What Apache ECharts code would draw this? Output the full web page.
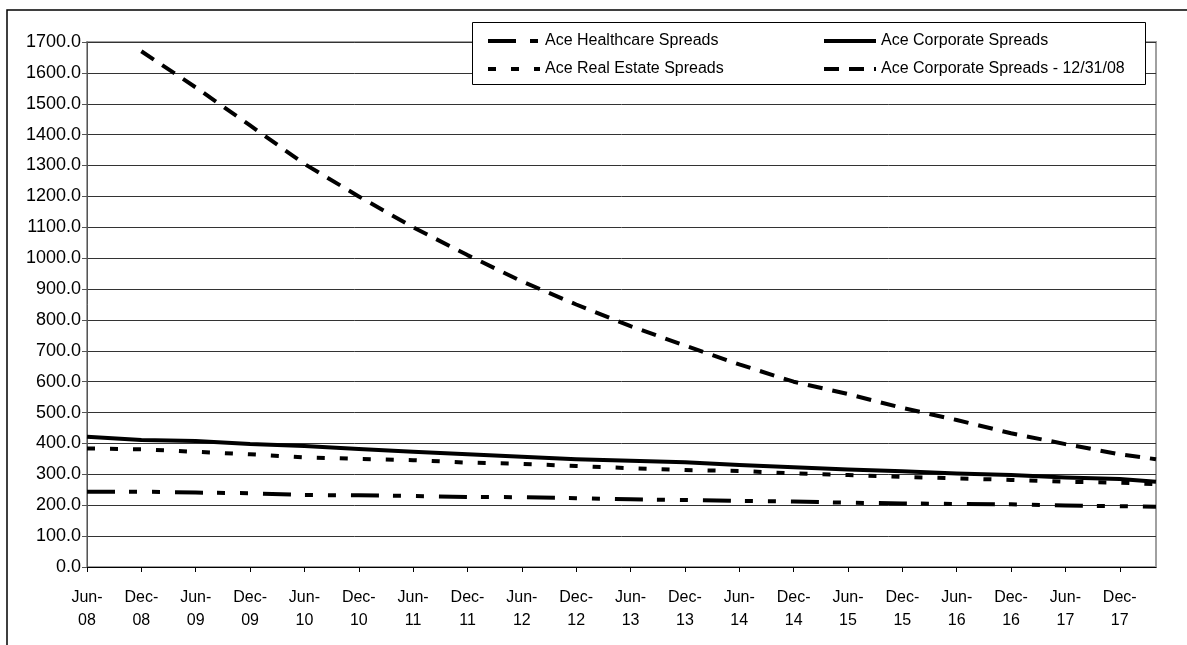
<!DOCTYPE html>
<html>
<head>
<meta charset="utf-8">
<script src="https://cdn.jsdelivr.net/npm/echarts@6/dist/echarts.min.js"></script>
<style>
  html, body { margin: 0; padding: 0; background: #fff; }
  #chart { width: 1187px; height: 645px; }
</style>
</head>
<body>
<div id="chart"></div>
<script>
// Half-year tick labels, Jun-08 .. Dec-17
const tickLabels = ['Jun-08','Dec-08','Jun-09','Dec-09','Jun-10','Dec-10','Jun-11','Dec-11','Jun-12','Dec-12',
                    'Jun-13','Dec-13','Jun-14','Dec-14','Jun-15','Dec-15','Jun-16','Dec-16','Jun-17','Dec-17'];
// Months elapsed since Jun-08 for each observation (last one is Apr-18)
const months = [0,6,12,18,24,30,36,42,48,54,60,66,72,78,84,90,96,102,108,114,118];
const axisMaxMonth = 118;

const healthcare = [244,244,241,239,233,232,230,227,226,223,219,217,214,212,208,206,204,203,199,197,195];
const realEstate = [384,381,373,365,355,350,346,338,334,327,320,314,311,303,298,292,287,282,276,273,268];
const corporate  = [422,411,408,398,392,382,373,365,357,349,344,339,330,323,316,310,303,298,290,285,276];
const corporate123108 = [null,1670,1553,1430,1305,1200,1100,1010,925,850,780,717,656,600,560,515,476,433,398,365,349];

const seriesNames = ['Ace Healthcare Spreads','Ace Real Estate Spreads','Ace Corporate Spreads','Ace Corporate Spreads - 12/31/08'];

const FONT = 'Liberation Sans, Arial, sans-serif';
const pair = (vals) => months.map((m, i) => [m, vals[i]]);

const chart = echarts.init(document.getElementById('chart'), null, { renderer: 'canvas' });

function lineSeries(name, vals, dash) {
  return {
    name: name,
    type: 'line',
    data: pair(vals),
    showSymbol: false,
    symbol: 'none',
    connectNulls: false,
    z: 3,
    itemStyle: { color: '#000' },
    lineStyle: { color: '#000', width: 4, type: dash, cap: 'butt', join: 'round' },
    emphasis: { disabled: true }
  };
}

const legendCommon = {
  orient: 'vertical', top: 33, padding: 0,
  itemWidth: 52, itemHeight: 14, itemGap: 12,
  lineStyle: { width: 4 },
  itemStyle: { opacity: 0 },
  textStyle: { fontSize: 16, color: '#000', fontFamily: FONT },
  selectedMode: false, z: 10
};

chart.setOption({
  animation: false,
  backgroundColor: '#fff',
  color: ['#000', '#000', '#000', '#000'],
  textStyle: { fontFamily: FONT },
  grid: {
    left: 87, top: 42, right: 31, bottom: 78,
    show: true, borderColor: '#a0a0a0', borderWidth: 2, backgroundColor: 'transparent'
  },
  xAxis: {
    type: 'value', min: 0, max: axisMaxMonth, interval: 6,
    axisLine: { show: true, onZero: false, lineStyle: { color: '#000', width: 1 } },
    axisTick: {
      show: true, length: 5, inside: false,
      customValues: tickLabels.map((_, i) => i * 6),
      lineStyle: { color: '#000' }
    },
    axisLabel: {
      customValues: tickLabels.map((_, i) => i * 6),
      formatter: (v) => { const t = tickLabels[Math.round(v / 6)] || ''; return t.replace('-', '-\n'); },
      fontSize: 16, color: '#000', fontFamily: FONT, margin: 19, lineHeight: 23
    },
    splitLine: { show: false }
  },
  yAxis: {
    type: 'value', min: 0, max: 1700, interval: 100,
    axisLine: { show: true, lineStyle: { color: '#555', width: 1 } },
    axisTick: { show: true, length: 5, lineStyle: { color: '#555' } },
    axisLabel: { formatter: (v) => v.toFixed(1), fontSize: 18, color: '#000', fontFamily: FONT, margin: 6 },
    splitLine: { show: true, lineStyle: { color: '#333', width: 1 } }
  },
  legend: [
    Object.assign({ data: [seriesNames[0], seriesNames[1]], left: 486 }, legendCommon),
    Object.assign({ data: [seriesNames[2], seriesNames[3]], left: 822 }, legendCommon)
  ],
  graphic: [
    { // chart outline
      type: 'rect', z: 1, silent: true,
      shape: { x: 7, y: 10, width: 1400, height: 1000 },
      style: { fill: 'none', stroke: '#000', lineWidth: 1.5 }
    },
    { // legend frame
      type: 'rect', z: 9, silent: true,
      shape: { x: 472.5, y: 22.5, width: 673, height: 62 },
      style: { fill: '#fff', stroke: '#000', lineWidth: 1 }
    }
  ],
  series: [
    lineSeries(seriesNames[0], healthcare, [28, 14, 8, 15, 8, 15]),
    lineSeries(seriesNames[1], realEstate, [8, 15]),
    lineSeries(seriesNames[2], corporate, 'solid'),
    lineSeries(seriesNames[3], corporate123108, [15, 10])
  ]
});
</script>
</body>
</html>
